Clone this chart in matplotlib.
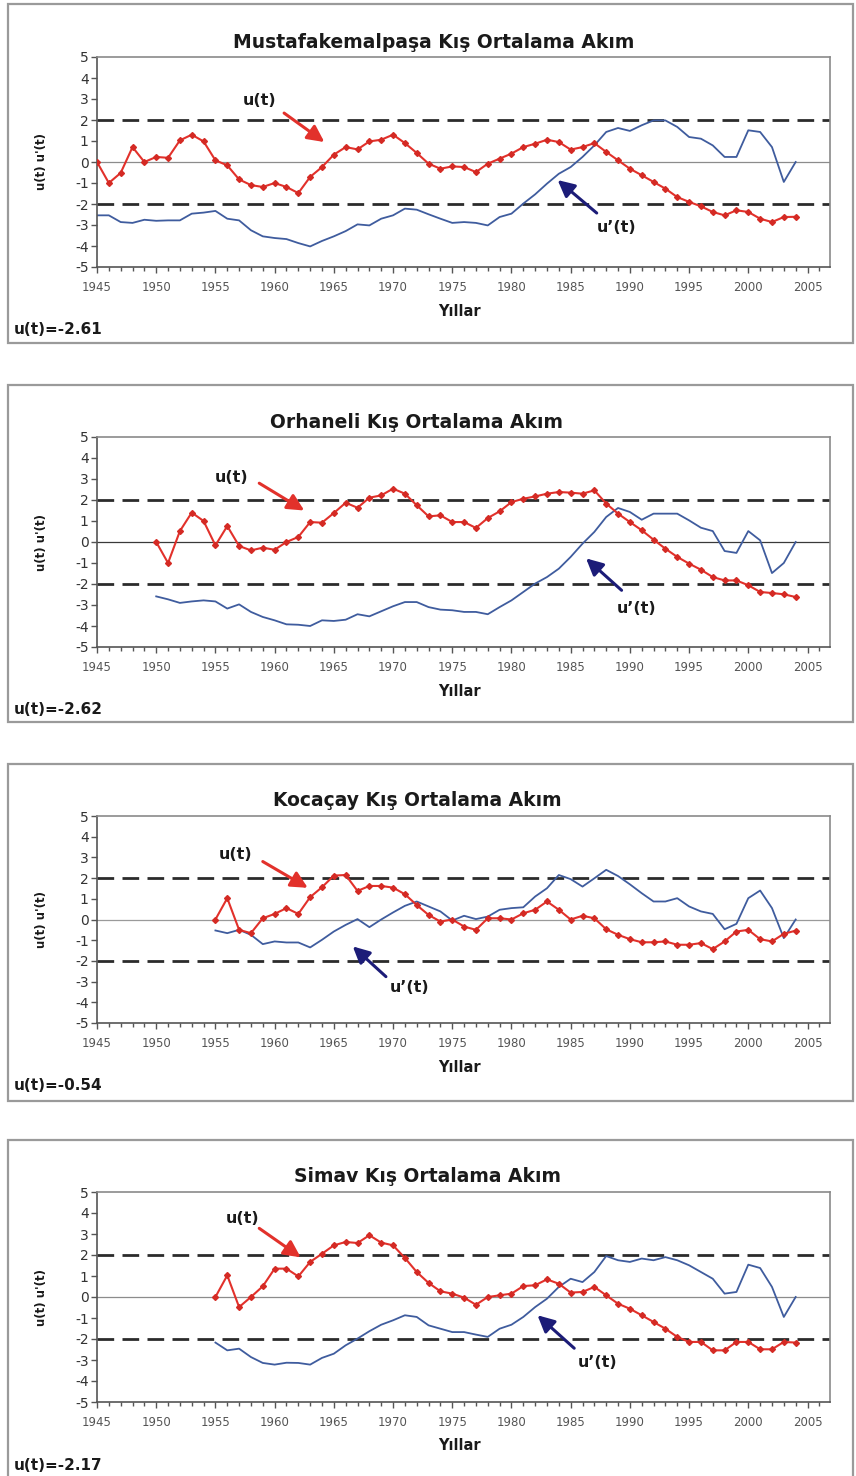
import matplotlib
matplotlib.use("Agg")
import matplotlib.pyplot as plt
from matplotlib.patches import Rectangle
from matplotlib.ticker import MultipleLocator
import numpy as np

plt.rcParams["axes.unicode_minus"] = False

W, H = 856, 1476

# --- data ---
TITLES = [
    "Mustafakemalpaşa Kış Ortalama Akım",
    "Orhaneli Kış Ortalama Akım",
    "Kocaçay Kış Ortalama Akım",
    "Simav Kış Ortalama Akım",
]
FINAL_LABELS = ["u(t)=-2.61", "u(t)=-2.62", "u(t)=-0.54", "u(t)=-2.17"]
START_YEARS = [1945, 1950, 1955, 1955]
END_YEAR = 2004

u_mustafa = [
    0.0, -1.0, -0.52, 0.71, 0.0, 0.24, 0.2, 1.03, 1.3, 0.98,
    0.08, -0.16, -0.83, -1.1, -1.19, -1.0, -1.19, -1.48, -0.71, -0.24,
    0.35, 0.71, 0.6, 0.98, 1.06, 1.3, 0.9, 0.43, -0.08, -0.32,
    -0.21, -0.24, -0.48, -0.08, 0.16, 0.4, 0.71, 0.87, 1.06, 0.95,
    0.59, 0.71, 0.9, 0.48, 0.08, -0.32, -0.63, -0.95, -1.27, -1.67,
    -1.9, -2.11, -2.38, -2.54, -2.3, -2.38, -2.7, -2.86, -2.62, -2.61,
]
up_mustafa = [
    -2.54, -2.54, -2.86, -2.9, -2.75, -2.8, -2.78, -2.78, -2.46, -2.41,
    -2.33, -2.7, -2.78, -3.25, -3.54, -3.62, -3.67, -3.86, -4.02, -3.76,
    -3.54, -3.29, -2.97, -3.02, -2.7, -2.54, -2.22, -2.27, -2.49, -2.7,
    -2.9, -2.86, -2.9, -3.02, -2.62, -2.46, -1.98, -1.54, -1.03, -0.56,
    -0.24, 0.24, 0.79, 1.43, 1.62, 1.48, 1.75, 1.98, 1.98, 1.67,
    1.19, 1.11, 0.79, 0.24, 0.24, 1.51, 1.43, 0.71, -0.95, 0.0,
]
u_orhaneli = [
    0.0, -1.0, 0.52, 1.4, 1.0, -0.16, 0.76, -0.19, -0.4, -0.27,
    -0.37, 0.0, 0.24, 0.95, 0.92, 1.38, 1.87, 1.63, 2.11, 2.22,
    2.54, 2.3, 1.75, 1.22, 1.27, 0.95, 0.95, 0.67, 1.14, 1.46,
    1.9, 2.06, 2.17, 2.3, 2.38, 2.35, 2.3, 2.46, 1.83, 1.35,
    0.95, 0.56, 0.11, -0.32, -0.71, -1.03, -1.32, -1.67, -1.83, -1.83,
    -2.06, -2.38, -2.43, -2.49, -2.62,
]
up_orhaneli = [
    -2.59, -2.73, -2.9, -2.83, -2.78, -2.83, -3.17, -2.97, -3.33, -3.57,
    -3.73, -3.92, -3.94, -4.0, -3.73, -3.76, -3.7, -3.44, -3.54, -3.3,
    -3.06, -2.86, -2.86, -3.1, -3.22, -3.25, -3.33, -3.33, -3.44, -3.1,
    -2.78, -2.38, -1.98, -1.67, -1.27, -0.71, -0.08, 0.48, 1.19, 1.62,
    1.43, 1.06, 1.35, 1.35, 1.35, 1.03, 0.68, 0.52, -0.43, -0.52,
    0.52, 0.08, -1.48, -1.0, 0.0,
]
u_kocacay = [
    0.0, 1.03, -0.5, -0.66, 0.06, 0.27, 0.55, 0.27, 1.08, 1.56,
    2.12, 2.15, 1.38, 1.62, 1.62, 1.54, 1.22, 0.7, 0.22, -0.1,
    0.0, -0.34, -0.5, 0.06, 0.06, 0.0, 0.3, 0.47, 0.87, 0.47,
    0.0, 0.18, 0.06, -0.47, -0.74, -0.95, -1.1, -1.1, -1.06, -1.22,
    -1.22, -1.14, -1.43, -1.06, -0.58, -0.5, -0.95, -1.06, -0.69, -0.54,
]
up_kocacay = [
    -0.53, -0.66, -0.5, -0.74, -1.19, -1.06, -1.11, -1.11, -1.35, -0.98,
    -0.58, -0.26, 0.02, -0.37, 0.0, 0.34, 0.66, 0.87, 0.63, 0.39,
    -0.05, 0.18, 0.02, 0.14, 0.47, 0.55, 0.59, 1.11, 1.51, 2.15,
    1.95, 1.59, 1.99, 2.4, 2.1, 1.7, 1.27, 0.87, 0.87, 1.03,
    0.63, 0.39, 0.27, -0.47, -0.21, 1.03, 1.4, 0.55, -0.9, 0.0,
]
u_simav = [
    0.0, 1.03, -0.48, 0.0, 0.51, 1.35, 1.35, 0.98, 1.67, 2.06,
    2.46, 2.62, 2.57, 2.94, 2.59, 2.46, 1.86, 1.19, 0.67, 0.27,
    0.16, -0.03, -0.37, 0.0, 0.08, 0.16, 0.52, 0.56, 0.84, 0.63,
    0.21, 0.24, 0.48, 0.08, -0.32, -0.56, -0.87, -1.19, -1.51, -1.9,
    -2.14, -2.14, -2.54, -2.54, -2.14, -2.14, -2.49, -2.49, -2.14, -2.17,
]
up_simav = [
    -2.17, -2.54, -2.46, -2.86, -3.14, -3.22, -3.13, -3.14, -3.22, -2.9,
    -2.7, -2.3, -1.98, -1.63, -1.32, -1.11, -0.87, -0.95, -1.35, -1.51,
    -1.67, -1.67, -1.79, -1.9, -1.51, -1.32, -0.95, -0.48, -0.08, 0.48,
    0.87, 0.71, 1.19, 1.95, 1.75, 1.67, 1.83, 1.75, 1.9, 1.75,
    1.51, 1.19, 0.87, 0.16, 0.24, 1.54, 1.38, 0.48, -0.95, 0.0,
]
U_SERIES = [u_mustafa, u_orhaneli, u_kocacay, u_simav]
UP_SERIES = [up_mustafa, up_orhaneli, up_kocacay, up_simav]

# annotation anchors in data units: (label pos, arrow start, arrow tip)
U_ANNOT = [
    ((1958.7, 2.95), (1960.8, 2.33), (1964.2, 0.95)),
    ((1956.4, 3.08), (1958.7, 2.80), (1962.5, 1.50)),
    ((1956.7, 3.12), (1959.0, 2.80), (1962.8, 1.53)),
    ((1957.3, 3.75), (1958.7, 3.27), (1962.2, 1.89)),
]
UP_ANNOT = [
    ((1988.9, -3.14), (1987.2, -2.43), (1983.9, -0.86)),
    ((1990.6, -3.16), (1989.3, -2.30), (1986.3, -0.78)),
    ((1971.4, -3.30), (1969.4, -2.76), (1966.6, -1.30)),
    ((1987.3, -3.11), (1985.3, -2.44), (1982.2, -0.87)),
]

# --- layout in pixels (top-origin) ---
PLOT_TOP = [57, 437, 816, 1192]
PLOT_BOT = [267, 647, 1023, 1402]
BOX_TOP = [4, 385, 764, 1140]
BOX_BOT = [343, 722, 1101, 1480]
TITLE_X = [434, 416, 417, 427]
PLOT_L, PLOT_R = 97, 830

RED = "#e2312b"
RED_MK = "#d42a24"
BLUE = "#3f5c9e"
NAVY = "#1c1c78"
INK = "#1a1a1a"
ZERO_COL = ["#8c8c8c", "#3a3a3a", "#9a9a9a", "#8c8c8c"]


def fx(x):
    return x / W


def fy(y):
    return 1 - y / H


fig = plt.figure(figsize=(W / 100, H / 100), dpi=100)
fig.patch.set_facecolor("white")

for i in range(4):
    # chart area border
    fig.patches.append(Rectangle((fx(8), fy(BOX_BOT[i])), fx(853) - fx(8),
                                 fy(BOX_TOP[i]) - fy(BOX_BOT[i]),
                                 transform=fig.transFigure, fill=False,
                                 edgecolor="#9a9a9a", lw=1.6, zorder=0))

    ax = fig.add_axes([fx(PLOT_L), fy(PLOT_BOT[i]), fx(PLOT_R) - fx(PLOT_L),
                       fy(PLOT_TOP[i]) - fy(PLOT_BOT[i])])
    years = np.arange(START_YEARS[i], END_YEAR + 1)

    ax.axhline(0, color=ZERO_COL[i], lw=0.9, zorder=1)
    for lvl in (2, -2):
        ax.axhline(lvl, color="#2b2b2b", lw=2.0, ls=(0, (6, 3)), zorder=1)

    ax.plot(years, UP_SERIES[i], color=BLUE, lw=1.3, zorder=2)
    ax.plot(years, U_SERIES[i], color=RED, lw=1.5, marker="D", ms=3.0,
            mfc=RED_MK, mec=RED_MK, zorder=3)

    # u(t) label + arrow
    (lx, ly), a0, a1 = U_ANNOT[i]
    ax.text(lx, ly, "u(t)", fontsize=11.5, fontweight="bold", color=INK,
            ha="center", va="center")
    ax.annotate("", xy=a1, xytext=a0,
                arrowprops=dict(arrowstyle="-|>,head_length=1.0,head_width=0.5",
                                color=RED, lw=2.2, shrinkA=0, shrinkB=0))
    # u'(t) label + arrow
    (lx, ly), a0, a1 = UP_ANNOT[i]
    ax.text(lx, ly, "u’(t)", fontsize=11.5, fontweight="bold", color=INK,
            ha="center", va="center")
    ax.annotate("", xy=a1, xytext=a0,
                arrowprops=dict(arrowstyle="-|>,head_length=1.0,head_width=0.5",
                                color=NAVY, lw=2.2, shrinkA=0, shrinkB=0))

    ax.set_xlim(1945, 2006.9)
    ax.set_ylim(-5, 5)
    ax.set_xticks(np.arange(1945, 2006, 5))
    ax.xaxis.set_minor_locator(MultipleLocator(1))
    ax.set_yticks(np.arange(-5, 6, 1))
    ax.tick_params(axis="x", which="major", direction="out", length=4,
                   width=1, colors="#555555", labelsize=8.5, labelcolor="#555555",
                   pad=6)
    ax.tick_params(axis="x", which="minor", direction="out", length=3,
                   width=1, colors="#555555")
    ax.tick_params(axis="y", direction="out", length=4, width=1,
                   colors="#555555", labelsize=10, labelcolor="#333333", pad=2)
    for side in ("left", "bottom"):
        ax.spines[side].set_color("#555555")
        ax.spines[side].set_linewidth(1.2)
    for side in ("top", "right"):
        ax.spines[side].set_color("#8a8a8a")
        ax.spines[side].set_linewidth(1.2)

    fig.text(fx(TITLE_X[i]), fy(PLOT_TOP[i] - 15), TITLES[i], ha="center",
             va="center", fontsize=13.5, fontweight="bold", color=INK)
    fig.text(fx(42), fy((PLOT_TOP[i] + PLOT_BOT[i]) / 2), "u(t) u'(t)",
             rotation=90, ha="center", va="center", fontsize=8.5,
             fontweight="bold", color=INK)
    fig.text(fx(460), fy(PLOT_BOT[i] + 44), "Yıllar", ha="center", va="center",
             fontsize=10.5, fontweight="bold", color=INK)
    fig.text(fx(14), fy(PLOT_BOT[i] + 63), FINAL_LABELS[i], ha="left",
             va="center", fontsize=11, fontweight="bold", color=INK)

fig.savefig("out.png", dpi=100, facecolor="white")
